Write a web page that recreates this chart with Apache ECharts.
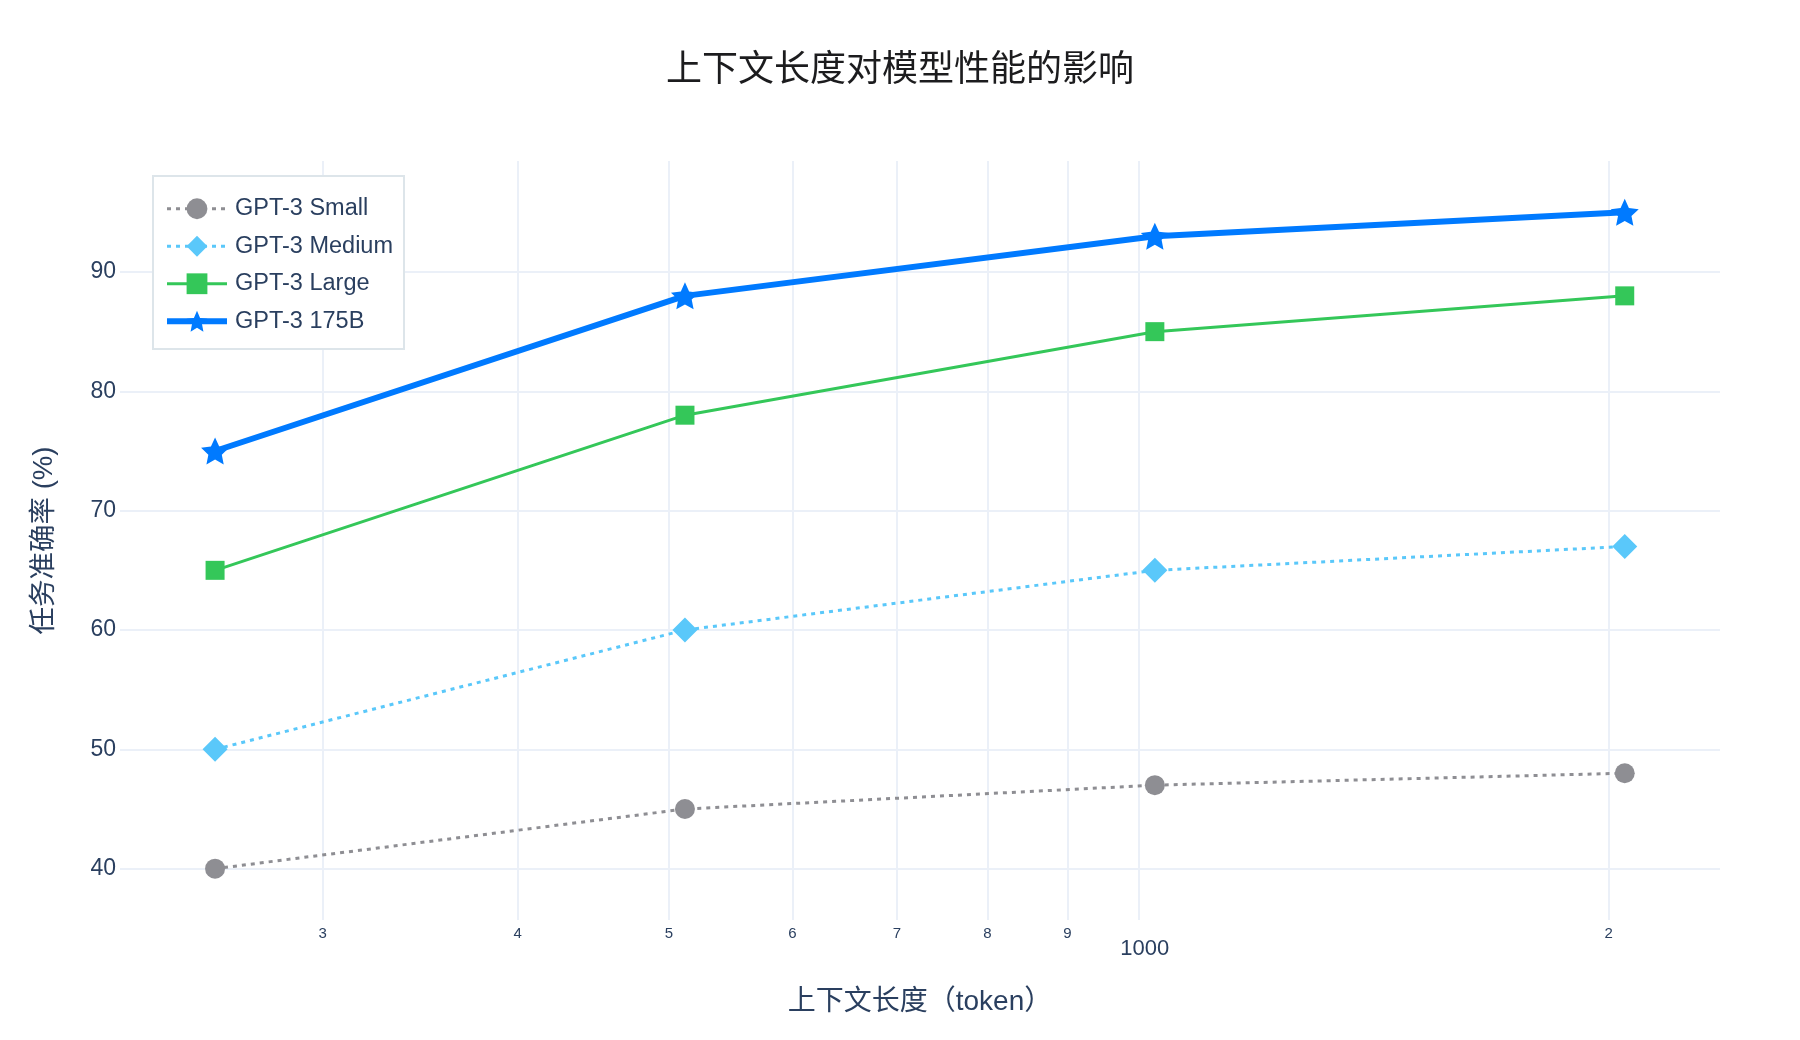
<!DOCTYPE html>
<html>
    <head>
        <meta charset="utf-8">
        <script src="https://cdn.jsdelivr.net/npm/echarts@6/dist/echarts.min.js"></script>
    </head>
    <body style="margin: 0">
        <div id="main" style="width: 1800px; height: 1040px"></div>
        <script type="text/javascript">
            // context length (token) on a log axis
            const contextLengths = [256, 512, 1024, 2048];
            const seriesNames = ['GPT-3 Small', 'GPT-3 Medium', 'GPT-3 Large', 'GPT-3 175B'];
            const smallAcc = [40, 45, 47, 48];
            const mediumAcc = [50, 60, 65, 67];
            const largeAcc = [65, 78, 85, 88];
            const bigAcc = [75, 88, 93, 95];
            const xTicks = [300, 400, 500, 600, 700, 800, 900, 1000, 2000];
            const yTicks = [40, 50, 60, 70, 80, 90];

            const latin = '"Liberation Sans", Arial, "Noto Sans CJK SC", sans-serif';
            const textColor = '#2a3f5f';
            const gridColor = '#ebf0f8';
            const star = 'path://M50,0 L64.11,30.58 L97.55,34.55 L72.83,57.42 L79.39,90.45 L50,74 L20.61,90.45 L27.17,57.42 L2.45,34.55 L35.89,30.58 Z';

            function pairs(values) {
                return contextLengths.map(function (x, i) { return [x, values[i]]; });
            }

            var chartDom = document.getElementById('main');
            var myChart = echarts.init(chartDom);
            var option;

            option = {
                animation: false,
                textStyle: { fontFamily: latin },
                title: {
                    text: '上下文长度对模型性能的影响',
                    left: 'center',
                    top: 48,
                    textStyle: { fontSize: 36, fontWeight: 'normal', color: '#1c1c1e', fontFamily: latin }
                },
                legend: {
                    orient: 'vertical',
                    left: 153,
                    top: 176,
                    padding: [21, 11, 16, 11],
                    itemWidth: 60,
                    itemHeight: 26,
                    itemGap: 14,
                    backgroundColor: '#ffffff',
                    borderColor: '#dde5ea',
                    borderWidth: 2,
                    lineStyle: { width: 'inherit' },
                    textStyle: { fontSize: 23.5, color: textColor, fontFamily: latin, padding: [0, 0, 0, 3] },
                    data: seriesNames
                },
                grid: { left: 120, right: 80, top: 161, bottom: 120 },
                xAxis: {
                    type: 'log',
                    logBase: 10,
                    min: 222.5,
                    max: 2357,
                    name: '上下文长度（token）',
                    nameLocation: 'middle',
                    nameGap: 68,
                    nameTextStyle: { fontSize: 28, color: textColor, fontFamily: latin },
                    axisLine: { show: false },
                    axisTick: { show: false, customValues: xTicks },
                    axisLabel: {
                        customValues: xTicks,
                        margin: 6,
                        color: textColor,
                        formatter: function (v) {
                            if (Math.abs(v - 1000) < 1) return '{b|1000}';
                            return '{s|' + String(Math.round(v)).charAt(0) + '}';
                        },
                        rich: {
                            s: { fontSize: 15, lineHeight: 15, color: textColor, fontFamily: latin },
                            b: { fontSize: 22, lineHeight: 22, color: textColor, fontFamily: latin, padding: [24, 0, 0, 12] }
                        }
                    },
                    splitLine: { show: true, lineStyle: { color: gridColor, width: 2 } }
                },
                yAxis: {
                    type: 'value',
                    min: 35.7,
                    max: 99.3,
                    name: '任务准确率 (%)',
                    nameLocation: 'middle',
                    nameGap: 62,
                    nameTextStyle: { fontSize: 27.5, color: textColor, fontFamily: latin },
                    axisLine: { show: false },
                    axisTick: { show: false, customValues: yTicks },
                    axisLabel: { customValues: yTicks, margin: 4, fontSize: 23, color: textColor, fontFamily: latin },
                    splitLine: { show: true, lineStyle: { color: gridColor, width: 2 } }
                },
                series: [
                    {
                        name: seriesNames[0],
                        type: 'line',
                        data: pairs(smallAcc),
                        symbol: 'circle',
                        symbolSize: 20,
                        itemStyle: { color: '#8e8e93' },
                        lineStyle: { color: '#8e8e93', width: 3, type: [4, 5] }
                    },
                    {
                        name: seriesNames[1],
                        type: 'line',
                        data: pairs(mediumAcc),
                        symbol: 'diamond',
                        symbolSize: 25,
                        itemStyle: { color: '#5ac8fa' },
                        lineStyle: { color: '#5ac8fa', width: 3, type: [4, 5] }
                    },
                    {
                        name: seriesNames[2],
                        type: 'line',
                        data: pairs(largeAcc),
                        symbol: 'rect',
                        symbolSize: 19,
                        itemStyle: { color: '#34c759' },
                        lineStyle: { color: '#34c759', width: 3 }
                    },
                    {
                        name: seriesNames[3],
                        type: 'line',
                        data: pairs(bigAcc),
                        symbol: star,
                        symbolSize: [28, 27],
                        itemStyle: { color: '#007aff' },
                        lineStyle: { color: '#007aff', width: 6 }
                    }
                ]
            };

            option && myChart.setOption(option);
        </script>
    </body>
</html>
